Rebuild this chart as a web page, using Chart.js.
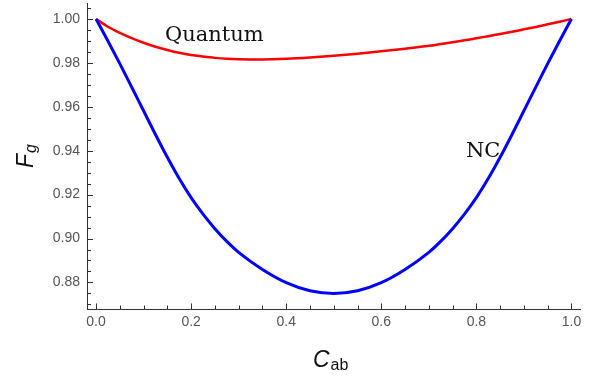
<!DOCTYPE html>
<html>
<head>
<meta charset="utf-8">
<script src="https://cdn.jsdelivr.net/npm/chart.js@4/dist/chart.umd.min.js"></script>
<style>
  html, body { margin: 0; padding: 0; background: #fff; }
  #wrap { width: 592px; height: 378px; }
</style>
</head>
<body>
<div id="wrap"><canvas id="chart" width="592" height="378"></canvas></div>
<script>
// C_ab values along the x axis
const cab = [0, 0.025, 0.05, 0.075, 0.1, 0.125, 0.15, 0.175, 0.2, 0.225, 0.25, 0.275, 0.3, 0.35, 0.4, 0.45, 0.5,
             0.55, 0.6, 0.65, 0.7, 0.725, 0.75, 0.775, 0.8, 0.825, 0.85, 0.875, 0.9, 0.925, 0.95, 0.975, 1.0];
// fidelity, quantum strategy (red)
const quantum = [1.0, 0.9965, 0.9937, 0.9913, 0.9892, 0.9874, 0.9859, 0.9846, 0.9836, 0.9829, 0.9823, 0.9819, 0.9817, 0.9816, 0.9819, 0.9825, 0.9833,
                 0.9842, 0.9853, 0.9865, 0.9878, 0.9886, 0.9894, 0.9903, 0.9912, 0.9922, 0.9932, 0.9942, 0.9953, 0.9964, 0.9976, 0.9988, 1.0];
// fidelity, NC strategy (blue)
const nc = [1.0, 0.9900, 0.9797, 0.9690, 0.9582, 0.9474, 0.9370, 0.9273, 0.9186, 0.9111, 0.9045, 0.8987, 0.8937, 0.8859, 0.8799, 0.8762, 0.8750,
            0.8762, 0.8799, 0.8859, 0.8937, 0.8987, 0.9045, 0.9111, 0.9186, 0.9273, 0.9370, 0.9474, 0.9582, 0.9690, 0.9797, 0.9900, 1.0];

const xTicks = [0, 0.2, 0.4, 0.6, 0.8, 1.0];
const yTicks = [0.88, 0.90, 0.92, 0.94, 0.96, 0.98, 1.00];
const xMinor = [0.05, 0.1, 0.15, 0.25, 0.3, 0.35, 0.45, 0.5, 0.55, 0.65, 0.7, 0.75, 0.85, 0.9, 0.95];
const yMinor = [0.87, 0.875, 0.885, 0.89, 0.895, 0.905, 0.91, 0.915, 0.925, 0.93, 0.935,
                0.945, 0.95, 0.955, 0.965, 0.97, 0.975, 0.985, 0.99, 0.995, 1.005];

const curveLabels = [
  { text: 'Quantum', x: 0.145, y: 0.9925 },
  { text: 'NC', x: 0.778, y: 0.9395 }
];

function pts(ys) {
  return cab.map((x, i) => ({ x: x, y: ys[i] }));
}

// inward ticks, curve labels and axis titles
const decorations = {
  id: 'decorations',
  afterDraw(chart) {
    const ctx = chart.ctx;
    const xs = chart.scales.x, ys = chart.scales.y;
    const left = chart.chartArea.left, bottom = chart.chartArea.bottom;
    ctx.save();
    ctx.strokeStyle = '#333';
    ctx.lineWidth = 1;
    ctx.beginPath();
    xTicks.forEach(v => { const p = Math.round(xs.getPixelForValue(v)) + 0.5; ctx.moveTo(p, bottom); ctx.lineTo(p, bottom - 5.5); });
    xMinor.forEach(v => { const p = Math.round(xs.getPixelForValue(v)) + 0.5; ctx.moveTo(p, bottom); ctx.lineTo(p, bottom - 3.5); });
    yTicks.forEach(v => { const p = Math.round(ys.getPixelForValue(v)) + 0.5; ctx.moveTo(left, p); ctx.lineTo(left + 6, p); });
    yMinor.forEach(v => { const p = Math.round(ys.getPixelForValue(v)) + 0.5; ctx.moveTo(left, p); ctx.lineTo(left + 4, p); });
    ctx.stroke();

    ctx.fillStyle = '#111';
    ctx.font = '21px "DejaVu Serif"';
    ctx.textBaseline = 'middle';
    ctx.textAlign = 'left';
    curveLabels.forEach(l => ctx.fillText(l.text, xs.getPixelForValue(l.x), ys.getPixelForValue(l.y)));

    // x title: C_ab
    ctx.textBaseline = 'alphabetic';
    ctx.font = 'italic 23px "Liberation Sans"';
    ctx.fillText('C', 313, 367);
    const cw = ctx.measureText('C').width;
    ctx.font = '16px "Liberation Sans"';
    ctx.fillText('ab', 313 + cw + 1, 370);

    // y title: F_g
    ctx.translate(33, 168);
    ctx.rotate(-Math.PI / 2);
    ctx.font = 'italic 23px "Liberation Sans"';
    ctx.fillText('F', 0, 0);
    const fw = ctx.measureText('F').width;
    ctx.font = 'italic 16px "Liberation Sans"';
    ctx.fillText('g', fw + 1, 3);
    ctx.restore();
  }
};

new Chart(document.getElementById('chart'), {
  type: 'line',
  data: {
    datasets: [
      { label: 'NC', data: pts(nc), borderColor: '#0000ff', borderWidth: 3, pointRadius: 0,
        cubicInterpolationMode: 'monotone', fill: false },
      { label: 'Quantum', data: pts(quantum), borderColor: '#ff0000', borderWidth: 2.5, pointRadius: 0,
        cubicInterpolationMode: 'monotone', fill: false }
    ]
  },
  options: {
    responsive: false,
    animation: false,
    events: [],
    layout: { padding: { top: 3, right: 12, left: 0, bottom: 0 } },
    plugins: { legend: { display: false }, tooltip: { enabled: false } },
    scales: {
      x: {
        type: 'linear',
        min: -0.019, max: 1.018,
        afterBuildTicks: s => { s.ticks = xTicks.map(v => ({ value: v })); },
        afterFit: s => { s.height = 69; s.paddingLeft = 0; s.paddingRight = 0; },
        grid: { display: false, drawTicks: false },
        border: { display: true, color: '#333', width: 1 },
        ticks: { padding: 5, color: '#555', font: { family: 'Liberation Sans', size: 14 },
                 maxRotation: 0, autoSkip: false, callback: v => v.toFixed(1) }
      },
      y: {
        type: 'linear',
        min: 0.8679, max: 1.0073,
        afterBuildTicks: s => { s.ticks = yTicks.map(v => ({ value: v })); },
        afterFit: s => { s.width = 87; s.paddingTop = 0; s.paddingBottom = 0; },
        grid: { display: false, drawTicks: false },
        border: { display: true, color: '#333', width: 1 },
        ticks: { padding: 7, color: '#555', font: { family: 'Liberation Sans', size: 14 },
                 autoSkip: false, callback: v => v.toFixed(2) }
      }
    }
  },
  plugins: [decorations]
});
</script>
</body>
</html>
